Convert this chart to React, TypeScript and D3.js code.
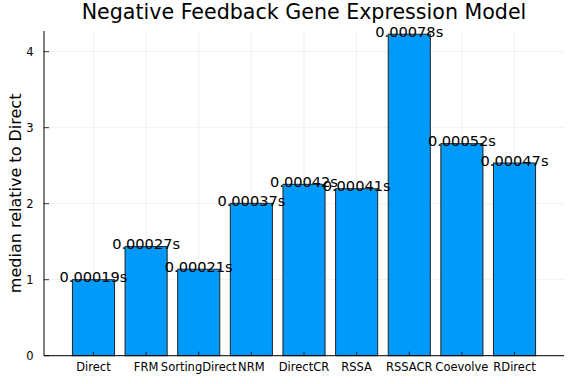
import React from 'react';
import * as d3 from 'd3';

const methods = ['Direct', 'FRM', 'SortingDirect', 'NRM', 'DirectCR', 'RSSA', 'RSSACR', 'Coevolve', 'RDirect'];
const relative = [1.0, 1.436, 1.138, 2.005, 2.255, 2.197, 4.23, 2.79, 2.535];
const timeLabels = ['0.00019s', '0.00027s', '0.00021s', '0.00037s', '0.00042s', '0.00041s', '0.00078s', '0.00052s', '0.00047s'];
const yTicks = [0, 1, 2, 3, 4];

const W = 576;
const H = 384;
const margin = { top: 31, right: 12, bottom: 28.3, left: 44 };
const font = 'DejaVu Sans, sans-serif';

export default function App() {
  const x = d3.scaleLinear()
    .domain([0.06, methods.length + 0.94])
    .range([margin.left, W - margin.right]);
  const y = d3.scaleLinear()
    .domain([0, 4.272])
    .range([H - margin.bottom, margin.top]);

  const bw = x(1.8) - x(1);
  const y0 = y(0);

  return (
    <svg width={W} height={H} style={{ position: 'absolute', left: 0, top: 0 }} fontFamily={font}>
      <rect width={W} height={H} fill="white" />
      <text x={(margin.left + W - margin.right) / 2} y={18.5} textAnchor="middle" fontSize={20.6} fill="black">
        Negative Feedback Gene Expression Model
      </text>

      {/* grid */}
      {methods.map((m, i) => (
        <line key={m} x1={x(i + 1)} x2={x(i + 1)} y1={margin.top} y2={y0} stroke="rgba(0,0,0,0.1)" strokeWidth={0.6} />
      ))}
      {yTicks.map(t => (
        <line key={t} x1={margin.left} x2={W - margin.right} y1={y(t)} y2={y(t)} stroke="rgba(0,0,0,0.1)" strokeWidth={0.6} />
      ))}

      {/* bars */}
      {relative.map((v, i) => (
        <rect key={methods[i]} x={x(i + 1) - bw / 2} y={y(v)} width={bw} height={y0 - y(v)}
          fill="#009AFA" stroke="#222" strokeWidth={1} />
      ))}

      {/* axes */}
      <line x1={margin.left} x2={margin.left} y1={margin.top} y2={y0} stroke="black" strokeWidth={1} />
      <line x1={margin.left} x2={W - margin.right} y1={y0} y2={y0} stroke="black" strokeWidth={1} />
      {yTicks.map(t => (
        <g key={t}>
          <line x1={margin.left} x2={margin.left + 5} y1={y(t)} y2={y(t)} stroke="black" strokeWidth={0.8} />
          <text x={margin.left - 10.5} y={y(t)} dy="0.35em" textAnchor="end" fontSize={11.5} fill="black">{t}</text>
        </g>
      ))}
      {methods.map((m, i) => (
        <g key={m}>
          <line x1={x(i + 1)} x2={x(i + 1)} y1={y0} y2={y0 - 4} stroke="black" strokeWidth={0.8} />
          <text x={x(i + 1)} y={y0 + 15} textAnchor="middle" fontSize={11.5} fill="black">{m}</text>
        </g>
      ))}

      {/* value labels */}
      {relative.map((v, i) => (
        <text key={methods[i]} x={x(i + 1)} y={y(v)} dy="0.18em" textAnchor="middle" fontSize={14.6} fill="black">
          {timeLabels[i]}
        </text>
      ))}

      <text transform={`translate(20.5,${(margin.top + y0) / 2}) rotate(-90)`} textAnchor="middle" fontSize={16} fill="black">
        median relative to Direct
      </text>
    </svg>
  );
}
